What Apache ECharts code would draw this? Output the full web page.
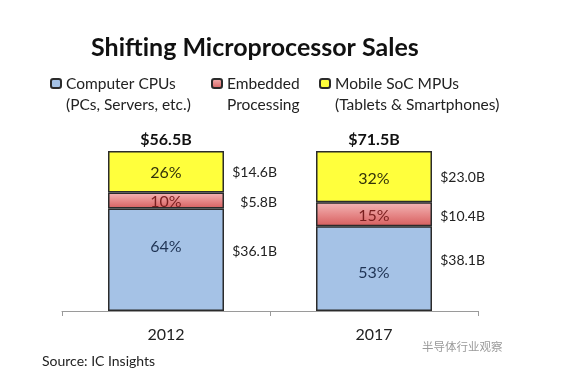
<!DOCTYPE html>
<html>
<head>
<meta charset="utf-8">
<script src="https://cdn.jsdelivr.net/npm/echarts@6/dist/echarts.min.js"></script>
<style>html,body{margin:0;padding:0;background:#fff}#c{width:567px;height:370px}</style>
</head>
<body>
<div id="c"></div>
<script>
const categories = ['2012', '2017'];
const totals = ['$56.5B', '$71.5B'];
const seriesNames = ['Computer CPUs\n(PCs, Servers, etc.)', 'Embedded\nProcessing', 'Mobile SoC MPUs\n(Tablets & Smartphones)'];
const cpuPct = [64, 53];
const embPct = [10, 15];
const mobPct = [26, 32];
const cpuUsd = ['$36.1B', '$38.1B'];
const embUsd = ['$5.8B', '$10.4B'];
const mobUsd = ['$14.6B', '$23.0B'];

const FONT = 'Lato';
const chart = echarts.init(document.getElementById('c'));

const redGrad = {type: 'linear', x: 0, y: 0, x2: 0, y2: 1, colorStops: [
  {offset: 0, color: '#f3b8b8'}, {offset: 0.55, color: '#e58585'}, {offset: 1, color: '#d55e5e'}]};
const colors = ['#a5c2e6', redGrad, '#ffff3c'];
const insideColors = ['#1f3354', '#7a1f1f', '#33330a'];
const pctData = [cpuPct, embPct, mobPct];
const usdData = [cpuUsd, embUsd, mobUsd];
const insideOffsets = [[[0, -13], [0, 4]], [[0, 1], [0, 2]], [[0, 1], [0, 2]]];
const rightOffsets = [[0, -8], [0, 2], [0, 1]];

const series = [];
pctData.forEach((arr, i) => {
  series.push({
    name: seriesNames[i], type: 'bar', stack: 'pct', barWidth: 116, barGap: '-100%',
    silent: true,
    itemStyle: {color: colors[i], borderColor: '#2b2b2b', borderWidth: 1.5},
    data: arr.map((v, j) => ({value: v, label: {offset: insideOffsets[i][j]}})),
    label: {show: true, position: 'inside', formatter: '{c}%', color: insideColors[i], fontFamily: FONT, fontSize: 16}
  });
});
pctData.forEach((arr, i) => {
  series.push({
    name: 'usd' + i, type: 'bar', stack: 'usd', barWidth: 116, barGap: '-100%',
    silent: true, z: 1,
    itemStyle: {color: 'rgba(0,0,0,0)'},
    data: arr.slice(),
    label: {show: true, position: 'right', distance: 53, align: 'right', offset: rightOffsets[i],
      formatter: p => usdData[i][p.dataIndex], color: '#222', fontFamily: FONT, fontSize: 14}
  });
});

function leg(i, left) {
  return {
    data: [seriesNames[i]], left: left, top: 52, padding: 0, itemWidth: 10, itemHeight: 9, itemGap: 0,
    selectedMode: false,
    formatter: name => ' \n' + name,
    textStyle: {fontFamily: FONT, fontSize: 15.5, color: '#222', lineHeight: 21}
  };
}

chart.setOption({
  animation: false,
  title: [
    {text: 'Shifting Microprocessor Sales', left: 86, top: 30, textStyle: {fontFamily: FONT, fontSize: 25, fontWeight: 'bold', color: '#111'}},
    {text: 'Source: IC Insights', left: 37, top: 349, textStyle: {fontFamily: FONT, fontSize: 14, fontWeight: 'normal', color: '#222'}},
    {text: '半导体行业观察', left: 417, top: 336, textStyle: {fontFamily: 'Noto Sans CJK SC', fontSize: 11.5, fontWeight: 'normal', color: '#9a9a9a'}}
  ],
  legend: [leg(0, 50), leg(1, 211), leg(2, 319)],
  grid: {left: 62, right: 89, top: 151, bottom: 59},
  xAxis: [
    {type: 'category', data: categories, position: 'bottom',
      axisLine: {lineStyle: {color: '#9a9a9a', width: 1}},
      axisTick: {show: true, length: 5, lineStyle: {color: '#9a9a9a'}},
      axisLabel: {fontFamily: FONT, fontSize: 16, color: '#222', margin: 16}},
    {type: 'category', data: totals, position: 'top',
      axisLine: {show: false}, axisTick: {show: false},
      axisLabel: {fontFamily: FONT, fontSize: 16, fontWeight: 'bold', color: '#111', margin: 3}}
  ],
  yAxis: {type: 'value', min: 0, max: 100, show: false, splitLine: {show: false}},
  series: series
});
</script>
</body>
</html>
